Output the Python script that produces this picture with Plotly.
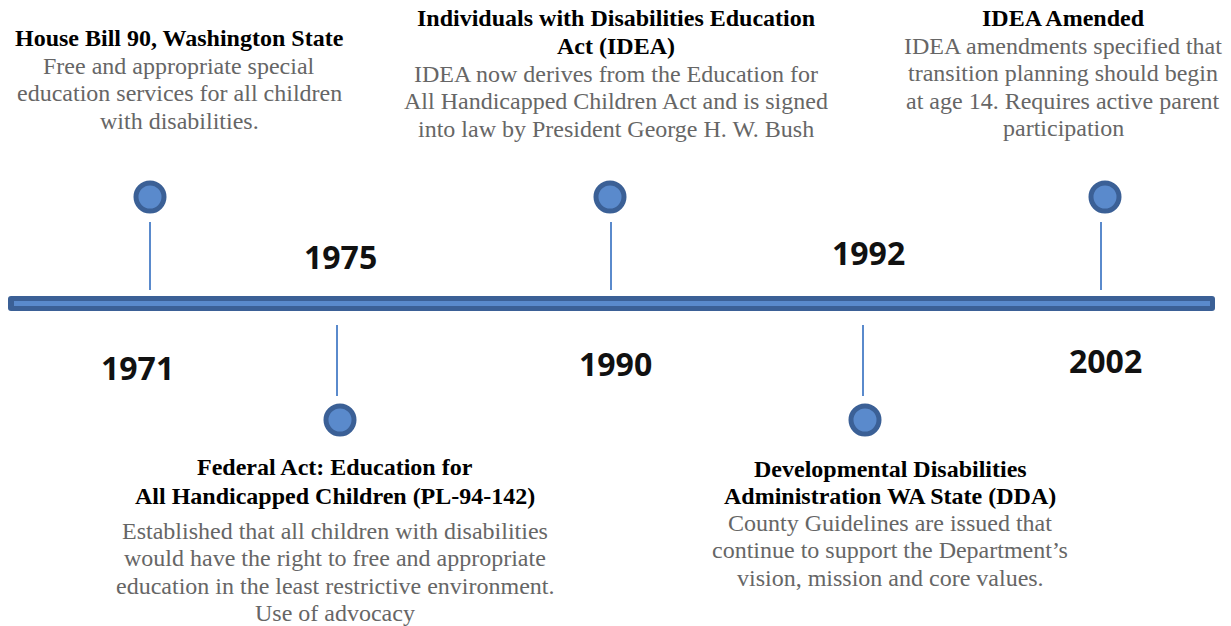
import plotly.graph_objects as go

# ---- data ----
years = ["1971", "1975", "1990", "1992", "2002"]
titles = [
    ["House Bill 90, Washington State"],
    ["Federal Act: Education for", "All Handicapped Children (PL-94-142)"],
    ["Individuals with Disabilities Education", "Act (IDEA)"],
    ["Developmental Disabilities", "Administration WA State (DDA)"],
    ["IDEA Amended"],
]
descriptions = [
    ["Free and appropriate special", "education services for all children", "with disabilities."],
    ["Established that all children with disabilities", "would have the right to free and appropriate",
     "education in the least restrictive environment.", "Use of advocacy"],
    ["IDEA now derives from the Education for", "All Handicapped Children Act and is signed",
     "into law by President George H. W. Bush"],
    ["County Guidelines are issued that", "continue to support the Department’s",
     "vision, mission and core values."],
    ["IDEA amendments specified that", "transition planning should begin",
     "at age 14. Requires active parent", "participation"],
]
sides = ["top", "bottom", "top", "bottom", "top"]

# ---- layout (pixel space) ----
stem_x = [150, 337, 611, 863, 1101]
dot_x = [150, 340, 610, 865, 1105]
year_x = [137, 340, 615, 868, 1105]
year_y = [367, 256, 363, 252, 360]
text_x = [179, 335, 616, 890, 1063]
title_y0 = [38, 467, 18, 469, 18]
desc_y0 = [66, 531, 74, 523, 46]
title_step = [28, 29, 28, 27, 28]
desc_step = 27.3
bar_x0, bar_x1, bar_y0, bar_y1, r = 8, 1215, 296, 311, 3

W, H = 1231, 626
DARK = "#3B6096"
LIGHT = "#5A8ACC"
GRAY = "#666666"

fig = go.Figure()
shapes = []
# timeline bar (rounded rectangle)
path = (f"M {bar_x0 + r},{bar_y0} L {bar_x1 - r},{bar_y0} Q {bar_x1},{bar_y0} {bar_x1},{bar_y0 + r} "
        f"L {bar_x1},{bar_y1 - r} Q {bar_x1},{bar_y1} {bar_x1 - r},{bar_y1} "
        f"L {bar_x0 + r},{bar_y1} Q {bar_x0},{bar_y1} {bar_x0},{bar_y1 - r} "
        f"L {bar_x0},{bar_y0 + r} Q {bar_x0},{bar_y0} {bar_x0 + r},{bar_y0} Z")
shapes.append(dict(type="path", path=path, fillcolor=DARK, line=dict(width=0), layer="below"))
shapes.append(dict(type="rect", x0=14, x1=1210, y0=301, y1=306,
                   fillcolor=LIGHT, line=dict(width=0), layer="below"))

dots_y = []
for i, s in enumerate(sides):
    if s == "top":
        y0, y1, dy = 222, 290, 197
    else:
        y0, y1, dy = 325, 396, 420
    shapes.append(dict(type="line", x0=stem_x[i], x1=stem_x[i], y0=y0, y1=y1,
                       line=dict(color=LIGHT, width=2)))
    dots_y.append(dy)

fig.add_trace(go.Scatter(
    x=dot_x, y=dots_y, mode="markers",
    marker=dict(size=28, color=LIGHT, line=dict(color=DARK, width=5)),
    hoverinfo="skip", showlegend=False))

annotations = []
for i, yr in enumerate(years):
    annotations.append(dict(x=year_x[i], y=year_y[i], text=f"<b>{yr}</b>", showarrow=False,
                            font=dict(family="Open Sans", size=32, color="#111111"),
                            xanchor="center", yanchor="middle"))
    for j, line in enumerate(titles[i]):
        annotations.append(dict(x=text_x[i], y=title_y0[i] + j * title_step[i], text=f"<b>{line}</b>",
                                showarrow=False, xanchor="center", yanchor="middle",
                                font=dict(family="Liberation Serif", size=24, color="#000000")))
    for j, line in enumerate(descriptions[i]):
        annotations.append(dict(x=text_x[i], y=desc_y0[i] + j * desc_step, text=line,
                                showarrow=False, xanchor="center", yanchor="middle",
                                font=dict(family="Liberation Serif", size=24, color=GRAY)))

fig.update_layout(
    width=W, height=H,
    margin=dict(l=0, r=0, t=0, b=0),
    paper_bgcolor="white", plot_bgcolor="white",
    shapes=shapes, annotations=annotations,
    xaxis=dict(range=[0, W], visible=False, fixedrange=True),
    yaxis=dict(range=[H, 0], visible=False, fixedrange=True),
    showlegend=False,
)
fig.write_html("out.html", config={"displayModeBar": False},
               post_script="document.body.style.margin='0';document.body.style.overflow='hidden';")
